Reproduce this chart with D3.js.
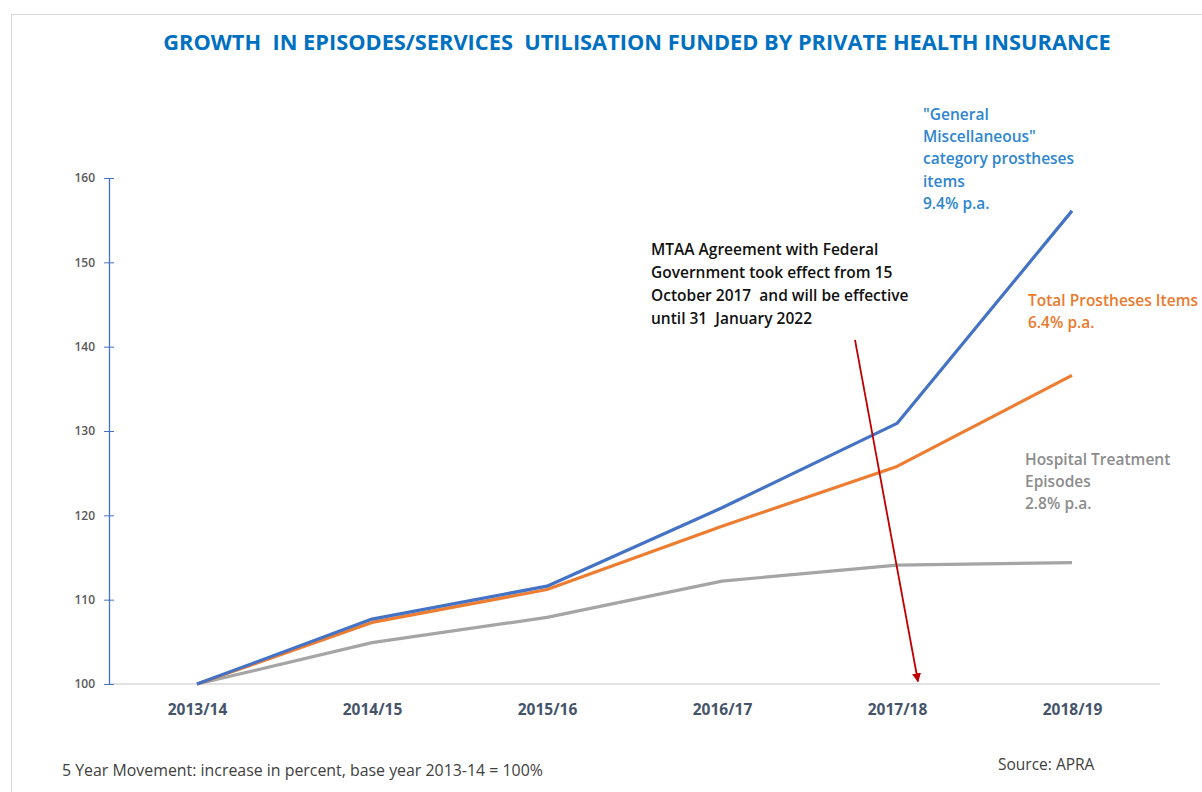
<!DOCTYPE html>
<html>
<head>
<meta charset="utf-8">
<script src="https://cdn.jsdelivr.net/npm/d3@7"></script>
<style>
  body { margin: 0; background: #fff; }
  svg { display: block; font-family: "Open Sans", "Noto Sans", sans-serif; }
  text { white-space: pre; }
</style>
</head>
<body>
<div id="chart"></div>
<script>
// Years on the x axis
var years = ["2013/14", "2014/15", "2015/16", "2016/17", "2017/18", "2018/19"];

// Index values, base year 2013-14 = 100
var generalMisc = [100, 107.7, 111.6, 120.9, 130.9, 156.1];
var totalProstheses = [100, 107.3, 111.2, 118.7, 125.8, 136.6];
var hospitalEpisodes = [100, 104.9, 107.9, 112.2, 114.1, 114.4];

var yTicks = [100, 110, 120, 130, 140, 150, 160];

var w = 1202;
var h = 792;

var svg = d3.select("#chart")
    .append("svg")
    .attr("width", w)
    .attr("height", h);

// light frame around the chart area
svg.append("rect")
    .attr("x", 11.5)
    .attr("y", 14.5)
    .attr("width", w)
    .attr("height", h)
    .attr("fill", "none")
    .attr("stroke", "#d9d9d9")
    .attr("stroke-width", 1);

// Scales
var xScale = d3.scalePoint()
    .domain(years)
    .range([197, 1072]);

var yScale = d3.scaleLinear()
    .domain([100, 160])
    .range([684, 178]);

// Title
svg.append("text")
    .attr("x", 637)
    .attr("y", 50)
    .attr("text-anchor", "middle")
    .attr("font-size", 21.8)
    .attr("font-weight", 700)
    .attr("fill", "#0070c0")
    .text("GROWTH  IN EPISODES/SERVICES  UTILISATION FUNDED BY PRIVATE HEALTH INSURANCE");

// X baseline
svg.append("line")
    .attr("x1", 109)
    .attr("x2", 1160)
    .attr("y1", yScale(100))
    .attr("y2", yScale(100))
    .attr("stroke", "#d9d9d9")
    .attr("stroke-width", 1.5);

// Y axis
var yAxis = svg.append("g")
    .attr("transform", "translate(109,0)")
    .call(d3.axisLeft(yScale).tickValues(yTicks).tickSize(5).tickSizeOuter(0));

yAxis.select(".domain").attr("stroke", "#4472c4").attr("stroke-width", 1.3);
yAxis.selectAll(".tick line")
    .attr("stroke", "#4472c4")
    .attr("x1", 5)
    .attr("x2", -5);
yAxis.selectAll(".tick text")
    .attr("x", -14)
    .attr("font-size", 12)
    .attr("font-weight", 600)
    .attr("fill", "#595959")
    .attr("font-family", "'Open Sans', sans-serif");

// X axis labels
var xAxis = svg.append("g")
    .attr("transform", "translate(0," + yScale(100) + ")")
    .call(d3.axisBottom(xScale).tickSize(0));

xAxis.select(".domain").remove();
xAxis.selectAll(".tick text")
    .attr("y", 20)
    .attr("font-size", 15.5)
    .attr("font-weight", 700)
    .attr("fill", "#44546a")
    .attr("font-family", "'Open Sans', sans-serif");

// Lines
var line = d3.line()
    .x(function(d, i) { return xScale(years[i]); })
    .y(function(d) { return yScale(d); });

var series = [
    { name: "hospital", values: hospitalEpisodes, color: "#a5a5a5" },
    { name: "total", values: totalProstheses, color: "#ed7d31" },
    { name: "general", values: generalMisc, color: "#4472c4" }
];

svg.selectAll(".series")
    .data(series)
    .enter()
    .append("path")
    .attr("class", "series")
    .attr("d", function(d) { return line(d.values); })
    .attr("fill", "none")
    .attr("stroke", function(d) { return d.color; })
    .attr("stroke-width", 3.2)
    .attr("stroke-linejoin", "round");

// Red arrow marking the agreement date
svg.append("defs")
    .append("marker")
    .attr("id", "arrowhead")
    .attr("viewBox", "0 0 10 10")
    .attr("refX", 9)
    .attr("refY", 5)
    .attr("markerWidth", 5)
    .attr("markerHeight", 5)
    .attr("orient", "auto")
    .append("path")
    .attr("d", "M0,0 L10,5 L0,10 Z")
    .attr("fill", "#c00000");

svg.append("line")
    .attr("x1", xScale("2017/18") - 42)
    .attr("y1", yScale(140.8))
    .attr("x2", xScale("2017/18") + 21)
    .attr("y2", yScale(100.3))
    .attr("stroke", "#c00000")
    .attr("stroke-width", 1.8)
    .attr("marker-end", "url(#arrowhead)");

// Annotation text blocks
function textBlock(x, y, lines, color, size, weight, lineH) {
    var t = svg.append("text")
        .attr("x", x)
        .attr("y", y)
        .attr("font-size", size)
        .attr("font-weight", weight)
        .attr("fill", color);
    lines.forEach(function(s, i) {
        t.append("tspan")
            .attr("x", x)
            .attr("dy", i === 0 ? 0 : lineH)
            .text(s);
    });
}

textBlock(651, 255, [
    "MTAA Agreement with Federal",
    "Government took effect from 15",
    "October 2017  and will be effective",
    "until 31  January 2022"
], "#111111", 15.5, 600, 23);

textBlock(923, 120, [
    "\"General",
    "Miscellaneous\"",
    "category prostheses",
    "items",
    "9.4% p.a."
], "#2e86d0", 15.5, 600, 22.2);

textBlock(1028, 306, [
    "Total Prostheses Items",
    "6.4% p.a."
], "#e97a2e", 15.5, 600, 22);

textBlock(1025, 465, [
    "Hospital Treatment",
    "Episodes",
    "2.8% p.a."
], "#8c8c8c", 15.5, 600, 22);

// Footer notes
svg.append("text")
    .attr("x", 62)
    .attr("y", 776)
    .attr("font-size", 15.9)
    .attr("fill", "#404040")
    .text("5 Year Movement: increase in percent, base year 2013-14 = 100%");

svg.append("text")
    .attr("x", 998)
    .attr("y", 770)
    .attr("font-size", 15.5)
    .attr("fill", "#404040")
    .text("Source: APRA");
</script>
</body>
</html>
